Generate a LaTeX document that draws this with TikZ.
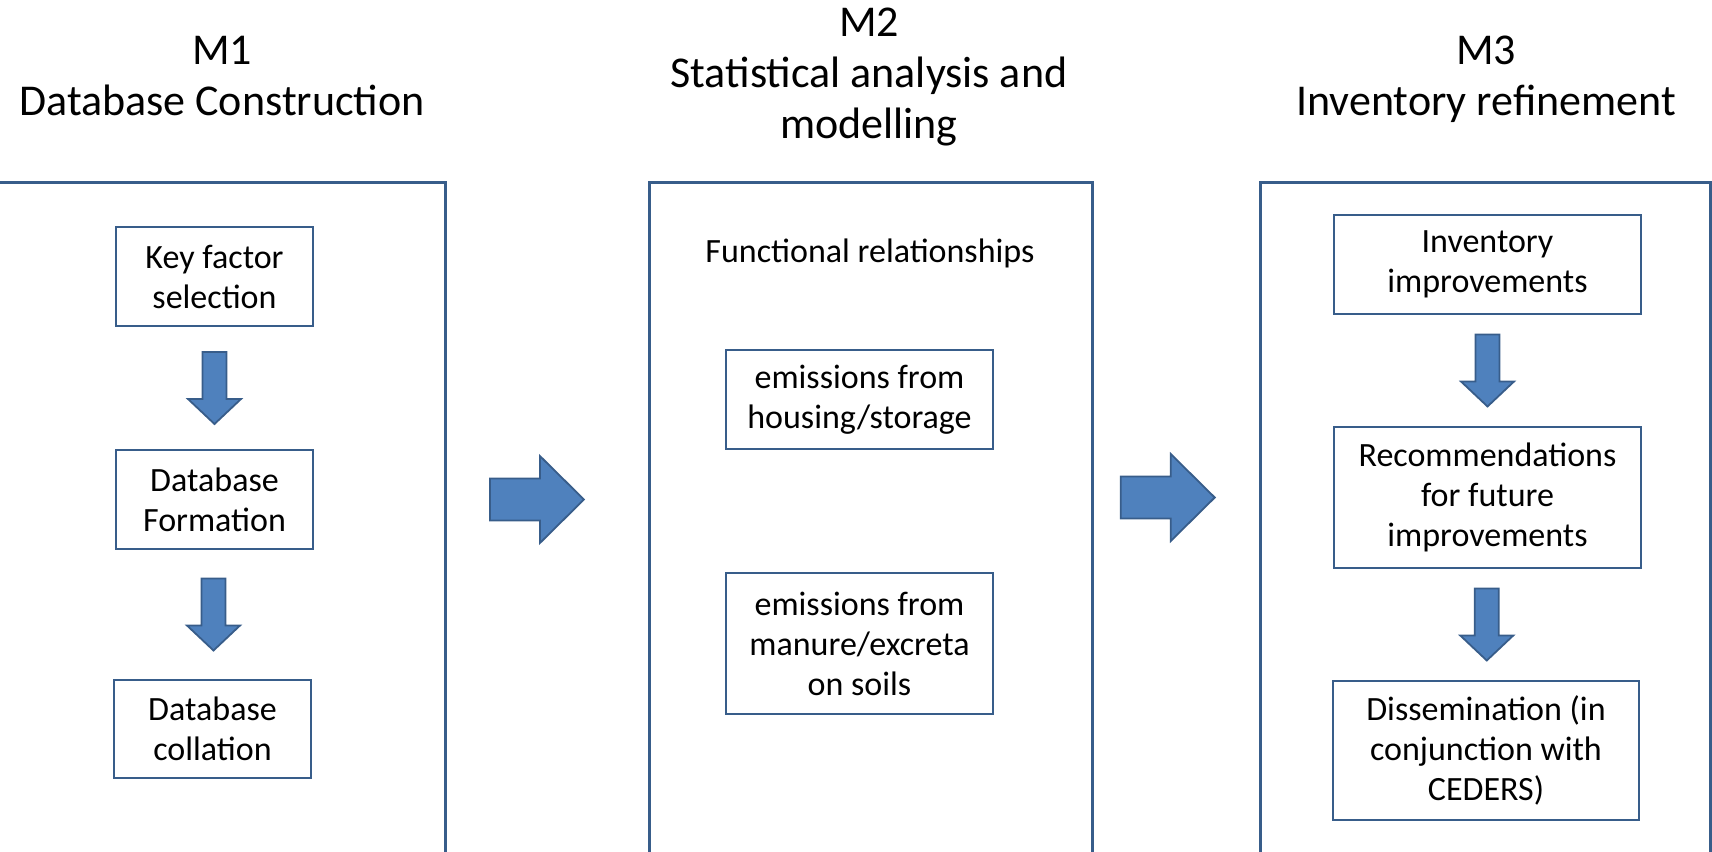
\documentclass[tikz,border=0pt]{standalone}
\usepackage{fontspec}
\setmainfont{Carlito}
\usepackage{tikz}
\usetikzlibrary{calc}

\definecolor{frameblue}{HTML}{385D8A}
\definecolor{arrowblue}{HTML}{4F81BD}

\begin{document}
\begin{tikzpicture}[x=0.5pt,y=-0.5pt,
  module/.style={draw=frameblue, line width=1.5pt, inner sep=0pt},
  title/.style={align=center, anchor=base, font=\fontsize{22}{25.5}\selectfont},
  item/.style={draw=frameblue, line width=1pt, align=center, inner sep=0pt,
    font=\fontsize{17}{20}\selectfont},
  blockarrow/.style={draw=frameblue, fill=arrowblue, line width=0.9pt, line join=miter},
  downblock/.pic={\draw[blockarrow] (-12,-36) -- (12,-36) -- (12,11) -- (26.5,11)
    -- (0,36) -- (-26.5,11) -- (-12,11) -- cycle;},
  rightblock/.pic={\draw[blockarrow] (-47,-21) -- (3,-21) -- (3,-43.5) -- (47,0)
    -- (3,43.5) -- (3,21) -- (-47,21) -- cycle;}]
  \clip (0,0) rectangle (1712,851);

  % the three modules
  \node[module, minimum width=226.5pt, minimum height=344pt] (m1) at (218.5,526) {};
  \node[module, minimum width=221.5pt, minimum height=344pt] (m2) at (870.5,526) {};
  \node[module, minimum width=225pt, minimum height=344pt] (m3) at (1485,526) {};

  % titles (base = last line)
  \node[title] (t1) at (222,115) {M1\\Database Construction};
  \node[title] (t2) at (869,138) {M2\\Statistical analysis and\\modelling};
  \node[title] (t3) at (1486,115) {M3\\Inventory refinement};

  % M1
  \node[item, minimum width=98.5pt, minimum height=49.5pt] (key) at (214.5,276.5) {Key factor\\selection};
  \node[item, minimum width=98.5pt, minimum height=49.5pt] (form) at (214.5,499.5) {Database\\Formation};
  \node[item, minimum width=98.5pt, minimum height=49pt] (coll) at (212.5,729) {Database\\collation};
  \pic at ($(key.south)!0.5!(form.north)$) {downblock};
  \pic at ($(form.south)!0.5!(coll.north)$) {downblock};

  % M2
  \node[anchor=base, font=\fontsize{17}{20}\selectfont] (func) at (870,262) {Functional relationships};
  \node[item, minimum width=133.5pt, minimum height=49.5pt] (house) at (859.5,399.5) {emissions from\\housing/storage};
  \node[item, minimum width=133.5pt, minimum height=70.5pt] (soil) at (859.5,643.5) {emissions from\\manure/excreta\\on soils};

  % M3
  \node[item, minimum width=153.5pt, minimum height=49.5pt] (inv) at (1487.5,264.5) {Inventory\\improvements};
  \node[item, minimum width=153.5pt, minimum height=70.5pt] (rec) at (1487.5,497.5) {Recommendations\\for future\\improvements};
  \node[item, minimum width=153pt, minimum height=69.5pt] (dis) at (1486,750.5) {Dissemination (in\\conjunction with\\CEDERS)};
  \pic at ($(inv.south)!0.5!(rec.north)$) {downblock};
  \pic at ($(rec.south)!0.5!(dis.north)$) {downblock};

  % between the modules
  \coordinate (g1) at ($(m1.east)!0.45!(m2.west)$);
  \coordinate (g2) at ($(m2.east)!0.45!(m3.west)$);
  \pic at (g1 |- form) {rightblock};
  \pic at (g2 |- rec) {rightblock};
\end{tikzpicture}
\end{document}
